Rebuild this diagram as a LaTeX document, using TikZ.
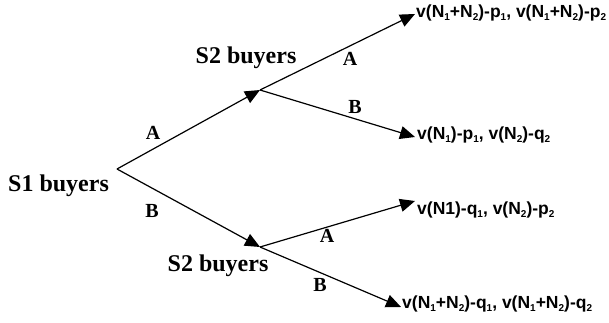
\documentclass[tikz,border=0pt]{standalone}
\usepackage{fontspec}
\setmainfont{Liberation Serif}
\newfontfamily\payfont{Liberation Sans}
\usetikzlibrary{arrows.meta}
\tikzset{
  branch/.style={line width=1.2pt, -{Triangle[length=15pt,width=13pt]}},
  lbl/.style={font=\fontsize{24}{27}\selectfont\bfseries, inner sep=0pt},
  edge/.style={font=\fontsize{20}{23}\selectfont\bfseries, inner sep=0pt},
  pay/.style={font=\payfont\fontsize{17.5}{20}\selectfont\bfseries, inner sep=0pt, anchor=west},
}
\newcommand{\sbs}[1]{\raisebox{-0.3ex}{\fontsize{10}{11}\selectfont #1}}
\begin{document}
\begin{tikzpicture}[x=1pt,y=-1pt]
\useasboundingbox (0,0) rectangle (609,323);
% vertices
\coordinate (R) at (117,169);
\coordinate (U) at (260,90);
\coordinate (L) at (260,247);
\coordinate (UAe) at (415,14);
\coordinate (UBe) at (415,137);
\coordinate (LAe) at (415,201);
\coordinate (LBe) at (401,307);
% labels
\node[lbl, anchor=west] (s1) at (8,186) {S1 buyers};
\node[lbl] (s2u) at (246,58) {S2 buyers};
\node[lbl] (s2l) at (218,266) {S2 buyers};
% payoffs
\node[pay] (pUA) at (416,13) {v(N\sbs{1}+N\sbs{2})-p\sbs{1}, v(N\sbs{1}+N\sbs{2})-p\sbs{2}};
\node[pay] (pUB) at (417,135) {v(N\sbs{1})-p\sbs{1}, v(N\sbs{2})-q\sbs{2}};
\node[pay] (pLA) at (417,210) {v(N1)-q\sbs{1}, v(N\sbs{2})-p\sbs{2}};
\node[pay] (pLB) at (402,304) {v(N\sbs{1}+N\sbs{2})-q\sbs{1}, v(N\sbs{1}+N\sbs{2})-q\sbs{2}};
% branches
\draw[branch] (R) -- (U);
\draw[branch] (R) -- (L);
\draw[branch] (U) -- (UAe);
\draw[branch] (U) -- (UBe);
\draw[branch] (L) -- (LAe);
\draw[branch] (L) -- (LBe);
% edge labels
\node[edge] (eA1) at (153,133) {A};
\node[edge] (eB1) at (152,211) {B};
\node[edge] (eA2) at (350,59) {A};
\node[edge] (eB2) at (355,107) {B};
\node[edge] (eA3) at (327,236) {A};
\node[edge] (eB3) at (320,285) {B};
\end{tikzpicture}
\end{document}
